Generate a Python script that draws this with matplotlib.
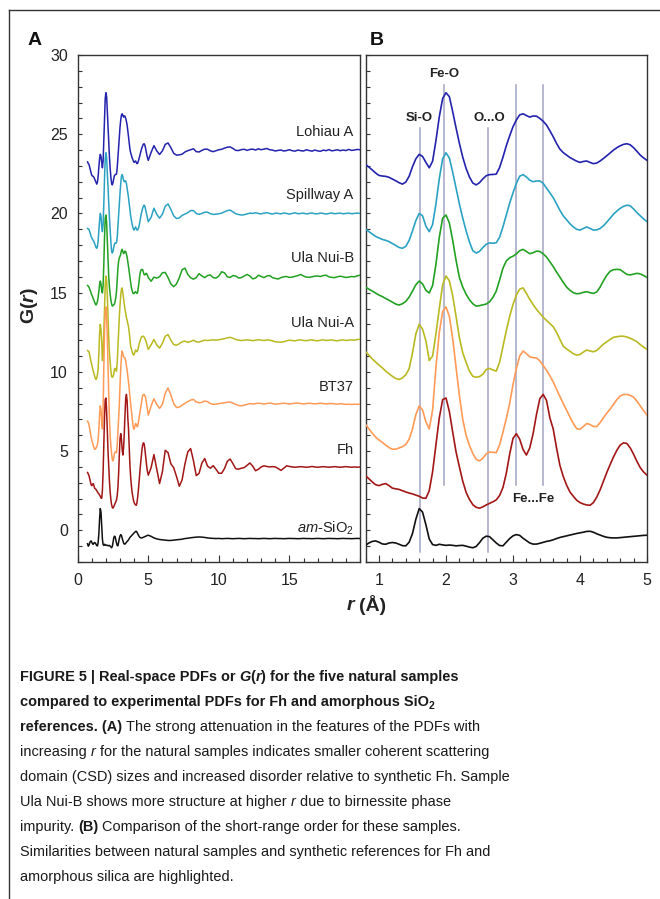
import numpy as np
import matplotlib
matplotlib.use('Agg')
import matplotlib.pyplot as plt
from matplotlib.lines import Line2D
from matplotlib.ticker import MultipleLocator, FixedLocator

W, H = 660, 899

plt.rcParams['font.family'] = ['Liberation Sans', 'DejaVu Sans']
plt.rcParams['mathtext.fontset'] = 'custom'
plt.rcParams['mathtext.rm'] = 'Liberation Sans'
plt.rcParams['mathtext.it'] = 'Liberation Sans:italic'
plt.rcParams['mathtext.bf'] = 'Liberation Sans:bold'
plt.rcParams['mathtext.bfit'] = 'Liberation Sans:italic:bold'

# r grids (Angstrom): fine grid for the short-range part, coarser for long range
R_SHORT = np.round(np.arange(0.70, 5.001, 0.05), 2)
R_LONG = np.round(np.arange(5.2, 20.001, 0.2), 1)

SAMPLES = ['Lohiau A', 'Spillway A', 'Ula Nui-B', 'Ula Nui-A', 'BT37', 'Fh', r'$\mathit{am}$-SiO$_2$']
COLORS = ['#2323ad', '#2ba2c2', '#23a123', '#b9b921', '#ff9a57', '#a31616', '#111111']

LOHIAU_SHORT = [
    23.25, 23.15, 23.09, 22.92, 22.74, 22.55, 22.40, 22.36, 22.34, 22.28,
    22.17, 22.06, 21.94, 21.85, 21.98, 22.35, 22.95, 23.45, 23.73, 23.60,
    23.22, 22.88, 23.30, 24.60, 26.10, 27.26, 27.62, 27.37, 26.42, 25.40,
    24.42, 23.55, 22.84, 22.30, 21.92, 21.80, 21.94, 22.18, 22.38, 22.45,
    22.46, 22.48, 22.90, 23.55, 24.27, 24.90, 25.47, 25.90, 26.22, 26.29,
    26.18, 26.08, 26.15, 26.14, 26.00, 25.82, 25.58, 25.22, 24.84, 24.42,
    24.06, 23.84, 23.68, 23.53, 23.41, 23.30, 23.22, 23.28, 23.31, 23.22,
    23.14, 23.18, 23.31, 23.47, 23.64, 23.82, 24.00, 24.15, 24.27, 24.36,
    24.40, 24.33, 24.15, 23.92, 23.68, 23.50, 23.35]
LOHIAU_LONG = [
    23.85, 24.28, 23.95, 23.72, 23.95, 24.35, 24.45, 24.15, 23.80, 23.68,
    23.70, 23.74, 23.88, 23.96, 24.02, 24.08, 23.90, 23.88, 23.98, 24.06,
    24.05, 23.95, 23.90, 23.96, 24.02, 24.05, 24.12, 24.18, 24.20, 24.10,
    23.98, 23.97, 24.03, 24.05, 23.98, 24.04, 24.06, 24.00, 24.08, 24.02,
    24.06, 24.10, 24.02, 24.00, 23.94, 23.98, 24.00, 23.94, 23.97, 24.02,
    23.96, 23.93, 24.00, 23.96, 23.94, 24.02, 23.97, 23.93, 24.00, 23.95,
    23.92, 24.00, 23.96, 24.03, 23.95, 23.98, 24.02, 23.96, 24.00, 23.97,
    24.04, 23.98, 24.00, 24.04, 24.02]

SPILLWAY_SHORT = [
    19.05, 19.02, 19.00, 18.85, 18.70, 18.55, 18.45, 18.36, 18.30, 18.22,
    18.10, 17.98, 17.85, 17.80, 17.92, 18.30, 18.90, 19.55, 20.00, 19.85,
    19.20, 18.85, 19.30, 20.60, 22.20, 23.45, 23.83, 23.50, 22.60, 21.60,
    20.60, 19.70, 18.90, 18.20, 17.65, 17.50, 17.60, 17.85, 18.05, 18.14,
    18.12, 18.15, 18.50, 19.15, 19.90, 20.65, 21.30, 21.90, 22.35, 22.45,
    22.30, 22.10, 22.00, 22.05, 22.05, 21.90, 21.60, 21.30, 21.00, 20.60,
    20.20, 19.85, 19.60, 19.35, 19.15, 19.00, 18.95, 19.05, 19.15, 19.05,
    18.95, 18.96, 19.05, 19.22, 19.45, 19.70, 19.95, 20.15, 20.32, 20.45,
    20.52, 20.48, 20.28, 20.05, 19.85, 19.65, 19.48]
SPILLWAY_LONG = [
    19.75, 20.33, 19.95, 19.70, 19.95, 20.45, 20.60, 20.25, 19.85, 19.68,
    19.72, 19.88, 19.96, 20.05, 20.18, 20.18, 20.00, 19.94, 20.00, 20.08,
    20.08, 19.98, 19.94, 19.95, 19.98, 20.02, 20.10, 20.18, 20.21, 20.10,
    19.98, 19.93, 19.90, 19.92, 19.97, 20.02, 20.00, 20.04, 20.00, 19.97,
    20.02, 20.05, 20.00, 19.96, 20.02, 20.00, 19.97, 20.03, 20.00, 19.96,
    20.00, 20.04, 19.98, 20.00, 20.02, 19.97, 20.00, 20.03, 19.98, 19.98,
    20.02, 20.00, 19.96, 20.00, 20.03, 19.98, 20.00, 20.02, 19.98, 20.00,
    20.02, 19.98, 20.00, 20.02, 20.00]

ULANUI_B_SHORT = [
    15.45, 15.40, 15.35, 15.22, 15.10, 14.97, 14.85, 14.75, 14.63, 14.52,
    14.40, 14.28, 14.22, 14.30, 14.45, 14.72, 15.10, 15.50, 15.73, 15.55,
    15.15, 14.98, 15.45, 16.80, 18.50, 19.70, 19.90, 19.40, 18.30, 17.05,
    15.95, 15.35, 14.90, 14.55, 14.30, 14.15, 14.18, 14.23, 14.28, 14.42,
    14.70, 15.10, 15.80, 16.55, 17.00, 17.20, 17.30, 17.45, 17.65, 17.73,
    17.60, 17.46, 17.52, 17.62, 17.60, 17.45, 17.25, 16.95, 16.65, 16.30,
    15.98, 15.65, 15.35, 15.15, 15.00, 14.93, 14.95, 15.02, 15.06, 15.00,
    14.95, 15.05, 15.35, 15.75, 16.10, 16.35, 16.45, 16.47, 16.45, 16.30,
    16.15, 16.12, 16.17, 16.22, 16.18, 16.08, 15.96]
ULANUI_B_LONG = [
    15.72, 15.98, 15.92, 16.00, 16.25, 16.28, 15.95, 15.55, 15.38, 15.55,
    15.95, 16.45, 16.55, 16.15, 15.94, 15.85, 15.95, 16.20, 16.05, 15.95,
    16.08, 16.12, 15.95, 15.92, 16.05, 16.32, 16.25, 16.00, 15.96, 16.08,
    16.05, 15.92, 15.95, 16.05, 16.15, 16.05, 15.87, 15.92, 16.10, 16.02,
    15.95, 16.05, 16.08, 15.95, 15.90, 15.86, 15.95, 16.00, 16.02, 15.96,
    15.98, 16.03, 16.08, 16.15, 16.05, 15.98, 15.97, 16.00, 16.04, 16.05,
    16.02, 16.08, 16.10, 16.00, 15.96, 15.95, 16.00, 16.04, 16.00, 15.96,
    15.98, 16.02, 16.00, 16.06, 16.10]

ULANUI_A_SHORT = [
    11.35, 11.30, 11.27, 11.05, 10.82, 10.62, 10.43, 10.25, 10.05, 9.88,
    9.72, 9.58, 9.52, 9.62, 9.82, 10.20, 11.20, 12.40, 13.00, 12.70,
    11.95, 10.72, 11.00, 12.40, 14.00, 15.50, 16.05, 15.75, 14.80, 13.50,
    12.15, 11.20, 10.60, 10.05, 9.72, 9.66, 9.70, 9.85, 10.15, 10.22,
    10.12, 10.05, 10.60, 11.60, 12.60, 13.50, 14.25, 14.85, 15.22, 15.30,
    14.95, 14.58, 14.25, 13.95, 13.70, 13.45, 13.25, 13.05, 12.85, 12.50,
    12.05, 11.62, 11.45, 11.30, 11.15, 11.06, 11.10, 11.25, 11.38, 11.32,
    11.27, 11.35, 11.55, 11.75, 11.90, 12.05, 12.18, 12.22, 12.25, 12.25,
    12.20, 12.12, 12.02, 11.90, 11.72, 11.56, 11.42]
ULANUI_A_LONG = [
    11.70, 12.05, 11.70, 11.50, 11.80, 12.25, 12.35, 12.00, 11.72, 11.68,
    11.78, 11.90, 11.94, 11.86, 11.92, 12.00, 11.90, 11.88, 11.95, 12.00,
    11.98, 12.00, 12.02, 12.00, 12.03, 12.06, 12.10, 12.15, 12.18, 12.12,
    12.05, 12.00, 11.98, 12.00, 12.02, 12.00, 11.97, 12.00, 12.03, 12.00,
    11.98, 12.02, 12.00, 11.96, 11.90, 11.88, 11.88, 11.90, 11.96, 12.00,
    11.98, 11.96, 12.00, 12.02, 11.98, 11.97, 12.00, 12.02, 11.98, 11.96,
    12.00, 12.02, 11.98, 12.00, 12.02, 11.98, 11.96, 12.00, 12.02, 11.98,
    12.00, 12.02, 12.00, 12.04, 12.06]

BT37_SHORT = [
    6.90, 6.80, 6.68, 6.40, 6.12, 5.88, 5.70, 5.55, 5.38, 5.22,
    5.12, 5.12, 5.20, 5.28, 5.42, 5.75, 6.40, 7.30, 7.85, 7.60,
    6.85, 6.40, 7.60, 10.30, 12.50, 13.80, 14.10, 13.50, 12.10, 10.30,
    8.50, 7.00, 6.00, 5.35, 4.85, 4.48, 4.38, 4.55, 4.82, 4.95,
    4.92, 4.90, 5.40, 6.20, 7.05, 8.00, 9.20, 10.20, 11.00, 11.32,
    11.15, 10.95, 10.90, 10.88, 10.70, 10.40, 10.11, 9.75, 9.37, 8.90,
    8.45, 8.00, 7.58, 7.15, 6.75, 6.42, 6.38, 6.55, 6.74, 6.68,
    6.55, 6.55, 6.80, 7.10, 7.40, 7.65, 7.95, 8.25, 8.48, 8.57,
    8.58, 8.52, 8.40, 8.15, 7.85, 7.55, 7.27]
BT37_LONG = [
    7.85, 8.30, 7.95, 7.70, 7.95, 8.65, 8.98, 8.55, 8.00, 7.75,
    7.78, 7.90, 8.02, 8.12, 8.22, 8.26, 8.10, 8.05, 8.08, 8.16,
    8.12, 8.00, 7.95, 7.96, 8.00, 8.02, 8.05, 8.08, 8.10, 8.02,
    7.95, 7.88, 7.86, 7.90, 7.95, 8.00, 7.97, 8.00, 8.02, 8.00,
    7.97, 8.00, 8.03, 8.00, 7.96, 7.98, 8.00, 8.02, 8.00, 7.97,
    8.00, 8.02, 8.03, 8.00, 7.98, 8.00, 8.02, 8.00, 7.98, 8.00,
    8.02, 8.00, 7.97, 8.00, 8.00, 7.98, 7.96, 8.00, 7.97, 7.95,
    7.96, 7.94, 7.96, 7.95, 7.97]

FH_SHORT = [
    3.65, 3.55, 3.45, 3.25, 3.05, 2.88, 2.82, 2.90, 2.95, 2.82,
    2.66, 2.62, 2.58, 2.50, 2.42, 2.35, 2.30, 2.22, 2.15, 2.04,
    2.02, 2.50, 3.70, 5.40, 7.10, 8.25, 8.35, 7.50, 6.20, 4.95,
    4.00, 3.10, 2.40, 1.95, 1.62, 1.45, 1.40, 1.48, 1.60, 1.70,
    1.80, 1.92, 2.20, 2.70, 3.60, 4.80, 5.80, 6.10, 5.75, 5.10,
    4.75, 5.20, 6.10, 7.30, 8.30, 8.58, 8.20, 7.10, 6.40, 5.20,
    4.10, 3.40, 2.85, 2.42, 2.15, 1.90, 1.75, 1.66, 1.60, 1.58,
    1.75, 2.10, 2.55, 3.10, 3.65, 4.15, 4.63, 5.05, 5.38, 5.52,
    5.48, 5.20, 4.80, 4.35, 3.95, 3.68, 3.48]
FH_LONG = [
    3.95, 4.78, 3.85, 2.95, 3.70, 5.05, 4.90, 4.20, 3.95, 3.40,
    2.78, 3.20, 4.20, 4.95, 5.16, 4.40, 3.45, 3.60, 4.25, 4.53,
    4.05, 3.92, 4.08, 3.85, 3.60, 3.60, 3.90, 4.35, 4.50, 4.20,
    3.88, 3.86, 3.92, 3.96, 4.10, 4.25, 4.05, 3.76, 3.85, 4.00,
    4.07, 4.03, 4.00, 4.02, 4.00, 3.90, 3.78, 3.92, 4.07, 4.03,
    4.00, 3.98, 4.00, 4.02, 4.00, 3.98, 4.00, 4.03, 4.00, 3.98,
    4.00, 4.02, 4.00, 3.98, 4.00, 4.02, 4.00, 3.98, 4.00, 4.02,
    4.00, 3.98, 4.00, 3.98, 4.00]

SIO2_SHORT = [
    -0.85, -1.00, -0.94, -0.80, -0.70, -0.67, -0.75, -0.86, -0.88, -0.80,
    -0.77, -0.80, -0.88, -0.97, -0.98, -0.75, -0.20, 0.70, 1.37, 1.15,
    0.35, -0.55, -0.90, -0.95, -0.88, -0.92, -0.95, -0.93, -0.95, -0.98,
    -0.96, -0.95, -1.00, -1.06, -1.10, -1.02, -0.78, -0.50, -0.37, -0.40,
    -0.60, -0.80, -0.96, -0.98, -0.75, -0.52, -0.35, -0.27, -0.32, -0.50,
    -0.65, -0.80, -0.87, -0.87, -0.82, -0.76, -0.70, -0.66, -0.60, -0.52,
    -0.45, -0.40, -0.35, -0.30, -0.25, -0.20, -0.16, -0.12, -0.07, -0.06,
    -0.12, -0.22, -0.30, -0.38, -0.44, -0.47, -0.48, -0.48, -0.46, -0.44,
    -0.42, -0.40, -0.38, -0.36, -0.34, -0.32, -0.31]
SIO2_LONG = [
    -0.38, -0.48, -0.54, -0.58, -0.60, -0.62, -0.64, -0.64, -0.62, -0.60,
    -0.58, -0.56, -0.52, -0.50, -0.47, -0.45, -0.43, -0.42, -0.43, -0.45,
    -0.48, -0.50, -0.51, -0.52, -0.51, -0.53, -0.52, -0.51, -0.52, -0.53,
    -0.52, -0.51, -0.52, -0.53, -0.52, -0.51, -0.52, -0.52, -0.53, -0.52,
    -0.51, -0.52, -0.53, -0.52, -0.51, -0.52, -0.52, -0.53, -0.52, -0.51,
    -0.52, -0.52, -0.53, -0.52, -0.51, -0.52, -0.52, -0.53, -0.52, -0.51,
    -0.52, -0.53, -0.52, -0.51, -0.52, -0.52, -0.53, -0.52, -0.51, -0.52,
    -0.52, -0.53, -0.52, -0.51, -0.52]

CURVES = [
    (LOHIAU_SHORT, LOHIAU_LONG),
    (SPILLWAY_SHORT, SPILLWAY_LONG),
    (ULANUI_B_SHORT, ULANUI_B_LONG),
    (ULANUI_A_SHORT, ULANUI_A_LONG),
    (BT37_SHORT, BT37_LONG),
    (FH_SHORT, FH_LONG),
    (SIO2_SHORT, SIO2_LONG),
]

# characteristic distances marked in panel B (Angstrom)
SI_O, FE_O, O_O = 1.61, 1.975, 2.62
FE_FE = [3.04, 3.45]

CAPTION = [
    [("FIGURE 5 | Real-space PDFs or ", 'b'), ("G", 'bi'), ("(", 'b'), ("r", 'bi'), (")", 'b'),
     (" for the five natural samples", 'b')],
    [("compared to experimental PDFs for Fh and amorphous SiO", 'b'), ("2", 'sub')],
    [("references. (A)", 'b'), (" The strong attenuation in the features of the PDFs with", 'n')],
    [("increasing ", 'n'), ("r", 'i'), (" for the natural samples indicates smaller coherent scattering", 'n')],
    [("domain (CSD) sizes and increased disorder relative to synthetic Fh. Sample", 'n')],
    [("Ula Nui-B shows more structure at higher ", 'n'), ("r", 'i'), (" due to birnessite phase", 'n')],
    [("impurity. ", 'n'), ("(B)", 'b'), (" Comparison of the short-range order for these samples.", 'n')],
    [("Similarities between natural samples and synthetic references for Fh and", 'n')],
    [("amorphous silica are highlighted.", 'n')],
]


def fig_xy(x_px, y_px):
    return x_px / W, 1 - y_px / H


def style_axes(ax):
    for sp in ax.spines.values():
        sp.set_color('#333333')
        sp.set_linewidth(1.0)
    ax.tick_params(which='both', direction='in', colors='#333333', labelcolor='#222222',
                   labelsize=11.5, width=0.8)
    ax.tick_params(which='major', length=5)
    ax.tick_params(which='minor', length=3)
    ax.tick_params(axis='x', pad=8)
    ax.tick_params(axis='y', pad=7)


def main():
    fig = plt.figure(figsize=(W / 100, H / 100), dpi=100)

    ax_a = fig.add_axes([77.7 / W, 1 - 562 / H, 282.3 / W, 507 / H])
    ax_b = fig.add_axes([365.6 / W, 1 - 562 / H, 281.4 / W, 507 / H])

    for (short, long_), color in zip(CURVES, COLORS):
        r = np.concatenate([R_SHORT, R_LONG])
        g = np.concatenate([short, long_])
        ax_a.plot(r, g, color=color, lw=1.1, zorder=3)
        ax_b.plot(R_SHORT, short, color=color, lw=1.2, zorder=3)

    # panel A
    style_axes(ax_a)
    ax_a.set_xlim(0, 20)
    ax_a.set_ylim(-2, 30)
    ax_a.xaxis.set_major_locator(FixedLocator([0, 5, 10, 15]))
    ax_a.xaxis.set_minor_locator(MultipleLocator(1))
    ax_a.yaxis.set_major_locator(MultipleLocator(5))
    ax_a.yaxis.set_minor_locator(MultipleLocator(1))
    ax_a.tick_params(axis='y', which='major', length=3)

    label_y = [25.15, 21.15, 17.2, 13.1, 9.05, 5.1, 0.1]
    for name, y in zip(SAMPLES, label_y):
        ax_a.text(19.55, y, name, ha='right', va='center', fontsize=10.5, color='#222222')

    # panel B
    style_axes(ax_b)
    ax_b.set_xlim(0.8, 5.0)
    ax_b.set_ylim(-2, 30)
    ax_b.xaxis.set_major_locator(MultipleLocator(1))
    ax_b.xaxis.set_minor_locator(MultipleLocator(0.2))
    ax_b.yaxis.set_major_locator(MultipleLocator(1))
    ax_b.tick_params(axis='y', which='major', length=3, labelleft=False)

    line_kw = dict(color='#a3a3c2', lw=1.1, zorder=1)
    ax_b.plot([SI_O, SI_O], [-1.4, 25.4], **line_kw)
    ax_b.plot([FE_O, FE_O], [2.85, 28.1], **line_kw)
    ax_b.plot([O_O, O_O], [-1.4, 25.4], **line_kw)
    for d in FE_FE:
        ax_b.plot([d, d], [2.85, 28.1], **line_kw)

    bond_kw = dict(ha='center', va='center', fontsize=9.5, fontweight='bold', color='#222222')
    ax_b.text(FE_O, 28.8, 'Fe-O', **bond_kw)
    ax_b.text(SI_O - 0.01, 26.05, 'Si-O', **bond_kw)
    ax_b.text(O_O + 0.02, 26.05, 'O...O', **bond_kw)
    ax_b.text(sum(FE_FE) / 2 + 0.05, 1.95, 'Fe...Fe', **bond_kw)

    # axis labels and panel letters
    fig.text(*fig_xy(30, 306), r'$\mathbf{G(}\mathbfit{r}\mathbf{)}$', rotation=90,
             ha='center', va='center', fontsize=14, color='#222222')
    fig.text(*fig_xy(356, 605), r'$\mathbfit{r}$', ha='right', va='center',
             fontsize=14, color='#222222')
    fig.text(*fig_xy(359, 605), '(\u00c5)', fontweight='bold', ha='left', va='center',
             fontsize=14, color='#222222')
    fig.text(*fig_xy(34.5, 40.5), 'A', ha='center', va='center', fontsize=14,
             fontweight='bold', color='#111111')
    fig.text(*fig_xy(377, 40.5), 'B', ha='center', va='center', fontsize=14,
             fontweight='bold', color='#111111')

    # frame around figure
    fig.add_artist(Line2D([9 / W, 9 / W], [0, 1 - 10 / H], transform=fig.transFigure,
                          color='#333333', lw=1.0))
    fig.add_artist(Line2D([9 / W, 1], [1 - 10 / H, 1 - 10 / H], transform=fig.transFigure,
                          color='#333333', lw=1.0))

    # caption, drawn piece by piece so bold / italic runs sit side by side
    renderer = fig.canvas.get_renderer()
    cap_font = ['Liberation Sans Narrow', 'Liberation Sans']
    cap_size = 10.45

    def font_kw(kind):
        return dict(family=cap_font,
                    fontsize=7.5 if kind == 'sub' else cap_size,
                    fontweight='bold' if kind in ('b', 'bi', 'sub') else 'normal',
                    fontstyle='italic' if kind in ('i', 'bi') else 'normal')

    def width_of(s, kind):
        t = fig.text(0, 0, s, **font_kw(kind))
        w = t.get_window_extent(renderer).width
        t.remove()
        return w

    space_w = width_of('x x', 'n') - width_of('xx', 'n')
    baseline = 681
    for parts in CAPTION:
        x = 20.0
        for s, kind in parts:
            if s.startswith(' '):
                x += space_w
            dy = 3 if kind == 'sub' else 0
            t = fig.text(*fig_xy(x, baseline + dy), s.strip(), ha='left', va='baseline',
                         color='#1a1a1a', **font_kw(kind))
            x = t.get_window_extent(renderer).x1
            if s.endswith(' '):
                x += space_w
        baseline += 25

    fig.savefig('out.png', dpi=100)


if __name__ == '__main__':
    main()
